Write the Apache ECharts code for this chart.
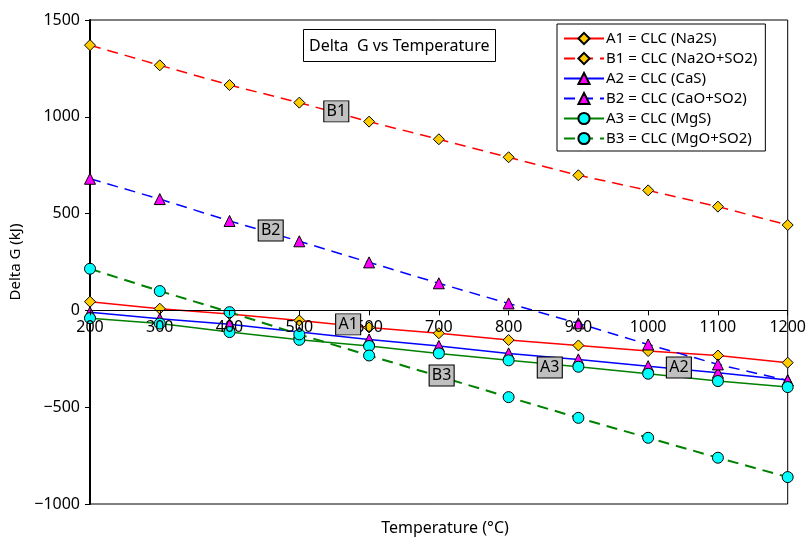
<!DOCTYPE html>
<html>
<head>
<meta charset="utf-8">
<script src="https://cdn.jsdelivr.net/npm/echarts@6/dist/echarts.min.js"></script>
<style>
  html, body { margin: 0; padding: 0; background: #fff; }
  #main { width: 809px; height: 537px; }
</style>
</head>
<body>
<div id="main"></div>
<script>
// temperatures (°C)
var temps = [200, 300, 400, 500, 600, 700, 800, 900, 1000, 1100, 1200];

// Delta G (kJ)
var a1 = [45, 9, -18, -52, -88, -118, -153, -181, -210, -233, -270];
var b1 = [1370, 1266, 1164, 1073, 975, 884, 791, 698, 620, 536, 441];
var a2 = [-10, -43, -72, -112, -150, -184, -222, -253, -288, -322, -360];
var b2 = [680, 575, 462, 357, 248, 140, 36, -67, -176, -279, -362];
var a3 = [-40, -68, -112, -152, -184, -222, -258, -291, -327, -365, -396];
var b3 = [215, 100, -9, -124, -233, -340, -448, -555, -658, -761, -861];

var names = ['A1 = CLC (Na2S)', 'B1 = CLC (Na2O+SO2)', 'A2 = CLC (CaS)',
             'B2 = CLC (CaO+SO2)', 'A3 = CLC (MgS)', 'B3 = CLC (MgO+SO2)'];

// where the little grey tags sit (data coords)
var tagText = ['A1', 'B1', 'A2', 'B2', 'A3', 'B3'];
var tagPos = [[570, -72], [553, 1028], [1044, -295], [459, 413], [859, -295], [704, -336]];

var yMin = -1000, yMax = 1500;
var gridTop = 20, gridBottom = 33, H = 537;
// x axis sits on y = 0, like the excel chart
var zeroShift = (H - gridTop - gridBottom) * (0 - yMin) / (yMax - yMin);

var FONT = '"Noto Sans", sans-serif';

function pairs(vals) {
    return temps.map(function (t, i) { return [t, vals[i]]; });
}

function mkSeries(idx, vals, color, dashed, symbol, fill, width) {
    return {
        type: 'line',
        name: names[idx],
        data: pairs(vals),
        symbol: symbol,
        symbolSize: 11,
        showAllSymbol: true,
        lineStyle: { color: color, width: width, type: dashed ? [11, 7] : 'solid' },
        itemStyle: { color: fill, borderColor: '#000', borderWidth: 1 },
        emphasis: { disabled: true },
        z: 2,
        markPoint: {
            symbol: 'rect',
            symbolSize: [25, 21],
            silent: true,
            animation: false,
            z: 10,
            itemStyle: { color: '#c0c0c0', borderColor: '#000', borderWidth: 1 },
            label: { show: true, position: 'inside', color: '#000', fontSize: 16, fontFamily: FONT,
                     formatter: tagText[idx] },
            data: [{ coord: tagPos[idx] }]
        }
    };
}

var chart = echarts.init(document.getElementById('main'));
chart.setOption({
    animation: false,
    textStyle: { fontFamily: FONT },
    title: [
        {
            text: 'Delta  G vs Temperature',
            left: 303, top: 29,
            padding: [9, 6, 8, 6],
            borderColor: '#000', borderWidth: 1,
            textStyle: { fontSize: 16, fontWeight: 'normal', color: '#000', fontFamily: FONT }
        },
        {
            text: 'Temperature (°C)',
            left: 440, top: 515, textAlign: 'center',
            textStyle: { fontSize: 16, fontWeight: 'normal', color: '#000', fontFamily: FONT }
        }
    ],
    legend: {
        orient: 'vertical',
        left: 557, top: 24,
        padding: [7, 8, 5, 6],
        itemGap: 5,
        itemWidth: 40, itemHeight: 14,
        borderColor: '#000', borderWidth: 1,
        backgroundColor: '#fff',
        textStyle: { fontSize: 15, lineHeight: 14, color: '#000', fontFamily: FONT, padding: [0, 0, 0, -3] },
        data: names
    },
    grid: {
        left: 90, right: 19, top: gridTop, bottom: gridBottom,
        show: true, borderColor: '#000', borderWidth: 1, backgroundColor: 'transparent'
    },
    xAxis: {
        type: 'value',
        min: 200, max: 1200, interval: 100,
        offset: -zeroShift,
        z: 4,
        axisLine: { onZero: false, lineStyle: { color: '#000', width: 1 } },
        axisTick: { length: 5, lineStyle: { color: '#000' } },
        axisLabel: { fontSize: 16, color: '#000', margin: 9, fontFamily: FONT,
                     formatter: function (v) { return String(v); } },
        splitLine: { show: false }
    },
    yAxis: {
        type: 'value',
        min: yMin, max: yMax, interval: 500,
        name: 'Delta G (kJ)',
        nameLocation: 'middle',
        nameGap: 60,
        nameTextStyle: { fontSize: 15, color: '#000', fontFamily: FONT },
        axisLine: { show: true, lineStyle: { color: '#000', width: 2 } },
        axisTick: { show: true, length: 5, lineStyle: { color: '#000' } },
        axisLabel: {
            fontSize: 16, color: '#000', margin: 10, fontFamily: FONT,
            formatter: function (v) { return String(v).replace('-', '\u2212'); }
        },
        splitLine: { show: false }
    },
    series: [
        mkSeries(0, a1, '#ff0000', false, 'diamond', '#ffcc00', 1.5),
        mkSeries(1, b1, '#ff0000', true, 'diamond', '#ffcc00', 1.5),
        mkSeries(2, a2, '#0000ff', false, 'triangle', '#ff00ff', 1.5),
        mkSeries(3, b2, '#0000ff', true, 'triangle', '#ff00ff', 1.5),
        mkSeries(4, a3, '#008000', false, 'circle', '#00ffff', 1.5),
        mkSeries(5, b3, '#008000', true, 'circle', '#00ffff', 2)
    ]
});
</script>
</body>
</html>
